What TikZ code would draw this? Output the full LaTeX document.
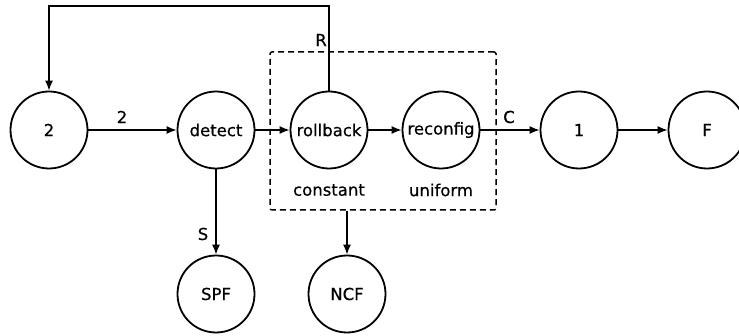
\documentclass[tikz,border=0pt]{standalone}
\usepackage{fontspec}
\setmainfont{DejaVu Sans}[FakeBold=0.5]
\usetikzlibrary{arrows.meta}
\begin{document}
\begin{tikzpicture}[x=1pt,y=-1pt,
  st/.style={circle,draw,line width=1.8pt,minimum size=77pt,inner sep=0pt,font=\fontsize{16.5}{18}\selectfont},
  conn/.style={line width=1.4pt,-{Latex[length=10pt,width=8pt]}},
  lbl/.style={font=\fontsize{16.5}{18}\selectfont,inner sep=1pt},
  grp/.style={draw,line width=1.5pt,dash pattern=on 6pt off 4pt,rounded corners=2pt}]
\useasboundingbox (0,0) rectangle (739,336);
\node[st] (n2) at (49,130) {2};
\node[st] (detect) at (216,130) {detect};
\node[st] (rollback) at (329,130) {rollback};
\node[st] (reconfig) at (441,130) {reconfig};
\node[st] (n1) at (579,130) {1};
\node[st] (F) at (707,130) {F};
\node[st] (SPF) at (216,294) {SPF};
\node[st] (NCF) at (347,294) {NCF};
\node[grp,minimum width=226pt,minimum height=158pt] (box) at (383,131) {};
\node[lbl] (lconst) at (329,190) {constant};
\node[lbl] (lunif) at (441,190) {uniform};
\coordinate (tr) at (rollback.north |- 0,6);
\coordinate (tl) at (n2.north |- 0,6);
\draw[conn] (rollback.north) -- (tr) -- (tl) -- (n2.north);
\node[lbl] (lR) at (321,40) {R};
\draw[conn] (n2) -- (detect);
\node[lbl] (l2) at (122,117) {2};
\draw[conn] (detect) -- (rollback);
\draw[conn] (rollback) -- (reconfig);
\draw[conn] (reconfig) -- (n1);
\node[lbl] (lC) at (509,117) {C};
\draw[conn] (n1) -- (F);
\draw[conn] (detect) -- (SPF);
\node[lbl] (lS) at (203,234) {S};
\draw[conn] (box.south -| NCF) -- (NCF);
\end{tikzpicture}
\end{document}
